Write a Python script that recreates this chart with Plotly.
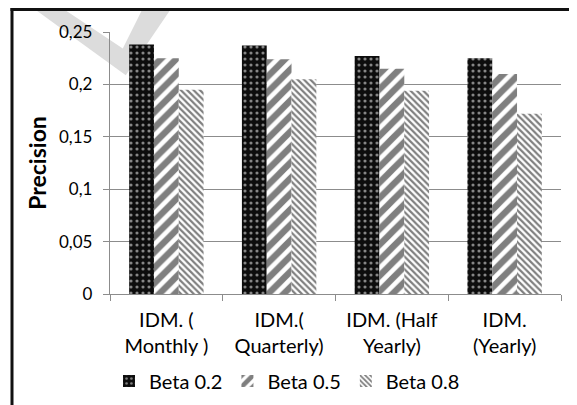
import plotly.graph_objects as go

# ---- data ----
categories = ["IDM. (<br>Monthly )", "IDM.(<br>Quarterly)", "IDM. (Half<br>Yearly)", "IDM.<br>(Yearly)"]
series_names = ["Beta 0.2", "Beta 0.5", "Beta 0.8"]
beta_02 = [0.238, 0.237, 0.227, 0.225]
beta_05 = [0.225, 0.224, 0.215, 0.210]
beta_08 = [0.195, 0.205, 0.194, 0.172]
ytick_vals = [0, 0.05, 0.1, 0.15, 0.2, 0.25]
ytick_text = ["0", "0,05", "0,1", "0,15", "0,2", "0,25"]

# the page body adds an 8px margin, so the figure is sized to fill the rest of the window
OFF = 8
W, H = 577 - OFF, 405 - OFF
ML, MR, MT, MB = 102, 16, 24, 111
PW, PH = W - ML - MR, H - MT - MB

def px_x(x):  # x in window pixels -> paper
    return (x - OFF - ML) / PW

def px_y(y):  # y in window pixels -> paper
    return (H - MB - (y - OFF)) / PH

FONT = "Lato"

patterns = [
    dict(shape=".", bgcolor="#0d0d0d", fgcolor="#ffffff", size=6, solidity=0.22),
    dict(shape="/", bgcolor="#ffffff", fgcolor="#000000", size=11, solidity=0.58),
    dict(shape="\\", bgcolor="#ffffff", fgcolor="#000000", size=4.5, solidity=0.48),
]

fig = go.Figure()
for name, vals, pat in zip(series_names, [beta_02, beta_05, beta_08], patterns):
    fig.add_trace(go.Bar(
        x=categories, y=vals, name=name,
        marker=dict(color=pat["bgcolor"], line=dict(width=0), pattern=pat),
    ))

# watermark (light gray check-like band) behind the plot
wm = [(8.2, -10), (125.8, 75.2), (183.8, -10), (152, -10), (122.75, 48.5), (35, -10)]
path = "M " + " L ".join(f"{px_x(x):.4f},{px_y(y):.4f}" for x, y in wm) + " Z"
shapes = [dict(type="path", path=path, xref="paper", yref="paper",
               fillcolor="#dcdcdc", line=dict(width=0), layer="below")]
# chart frame
shapes += [
    dict(type="line", xref="paper", yref="paper", x0=px_x(10.5), x1=px_x(580), y0=px_y(9.5), y1=px_y(9.5),
         line=dict(color="#111111", width=3), layer="above"),
    dict(type="line", xref="paper", yref="paper", x0=px_x(12), x1=px_x(12), y0=px_y(8), y1=px_y(410),
         line=dict(color="#111111", width=3), layer="above"),
    dict(type="line", xref="paper", yref="paper", x0=px_x(576), x1=px_x(576), y0=px_y(9), y1=px_y(410),
         line=dict(color="#9a9a9a", width=1.5), layer="above"),
]

fig.update_layout(
    width=W, height=H,
    margin=dict(l=ML, r=MR, t=MT, b=MB, autoexpand=False),
    paper_bgcolor="white", plot_bgcolor="rgba(0,0,0,0)",
    barmode="group", bargap=0.34, bargroupgap=0,
    font=dict(family=FONT, color="#000000"),
    shapes=shapes,
    showlegend=True,
    legend=dict(orientation="h", x=px_x(109), xanchor="left", y=px_y(381), yanchor="middle",
                font=dict(size=20, family=FONT), traceorder="normal", itemclick=False),
    xaxis=dict(showline=True, linecolor="#8c8c8c", linewidth=1.3, ticks="outside", tickson="boundaries",
               ticklen=6, tickcolor="#8c8c8c", tickwidth=1.3, tickfont=dict(size=20, family=FONT),
               ticklabelstandoff=8, showgrid=False, fixedrange=True),
    yaxis=dict(range=[0, 0.25], tickvals=ytick_vals, ticktext=ytick_text,
               showline=True, linecolor="#8c8c8c", linewidth=1.3, ticks="outside", ticklen=6,
               tickcolor="#8c8c8c", tickwidth=1.3, ticklabelstandoff=7,
               showgrid=True, gridcolor="#8c8c8c", gridwidth=1.3, zeroline=False,
               tickfont=dict(size=17, family=FONT),
               title=dict(text="Precision", font=dict(size=23, family=FONT, weight="bold"), standoff=5),
               automargin=False, fixedrange=True),
)

fig.write_html("out.html")
